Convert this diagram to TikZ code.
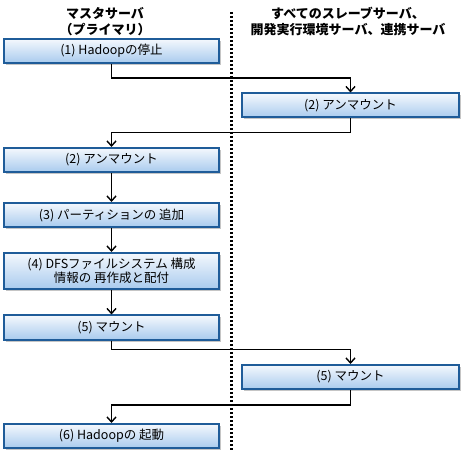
\documentclass[tikz,border=0pt]{standalone}
\usepackage{fontspec}
\setmainfont{Noto Sans CJK JP}
\usetikzlibrary{arrows.meta,shadows}
\definecolor{boxline}{HTML}{1F5C99}
\definecolor{boxtop}{HTML}{F4F8FD}
\definecolor{boxbot}{HTML}{A9CBEE}
\tikzset{
  stepbox/.style={draw=boxline, line width=2pt, top color=boxtop, bottom color=boxbot,
    minimum height=24pt, inner sep=1pt, align=center, font=\fontsize{12.5}{14}\selectfont,
    drop shadow={shadow xshift=2pt, shadow yshift=-2pt, fill=black!45}},
  leftbox/.style={stepbox, minimum width=215pt},
  rightbox/.style={stepbox, minimum width=217pt},
  flow/.style={line width=1.4pt, -{Straight Barb[length=5pt,width=9pt,line width=1.4pt]}},
  head/.style={font=\fontsize{13}{16}\selectfont\bfseries, align=center}
}
\begin{document}
\begin{tikzpicture}[x=1pt,y=1pt]
\useasboundingbox (0,0) rectangle (465,455);
% headers
\node[head] (hmaster) at (105,433) {マスタサーバ\\（プライマリ）};
\node[head] (hslave) at (348,434) {すべてのスレーブサーバ、\\開発実行環境サーバ、連携サーバ};
\draw[line width=3pt, dash pattern=on 2.4pt off 1.6pt] (231,443) -- (231,5);
% steps
\node[leftbox] (stop) at (111.5,404) {(1) Hadoopの停止};
\node[rightbox] (umount2) at (350.5,349.5) {(2) アンマウント};
\node[leftbox] (umount1) at (111.5,295) {(2) アンマウント};
\node[leftbox] (part) at (111.5,240) {(3) パーティションの 追加};
\node[leftbox, minimum height=36pt] (dfs) at (111.5,184) {(4) DFSファイルシステム 構成\\情報の 再作成と配付};
\node[leftbox] (mount1) at (111.5,127.5) {(5) マウント};
\node[rightbox] (mount2) at (350.5,78) {(5) マウント};
\node[leftbox] (start) at (111.5,19) {(6) Hadoopの 起動};
% connectors
\draw[flow] (stop.south) -- ++(0,-14) -| (umount2.north);
\draw[flow] (umount2.south) -- ++(0,-14) -| (umount1.north);
\draw[flow] (umount1) -- (part);
\draw[flow] (part) -- (dfs);
\draw[flow] (dfs) -- (mount1);
\draw[flow] (mount1.south) -- ++(0,-9) -| (mount2.north);
\draw[flow] (mount2.south) -- ++(0,-15) -| (start.north);
\end{tikzpicture}
\end{document}
